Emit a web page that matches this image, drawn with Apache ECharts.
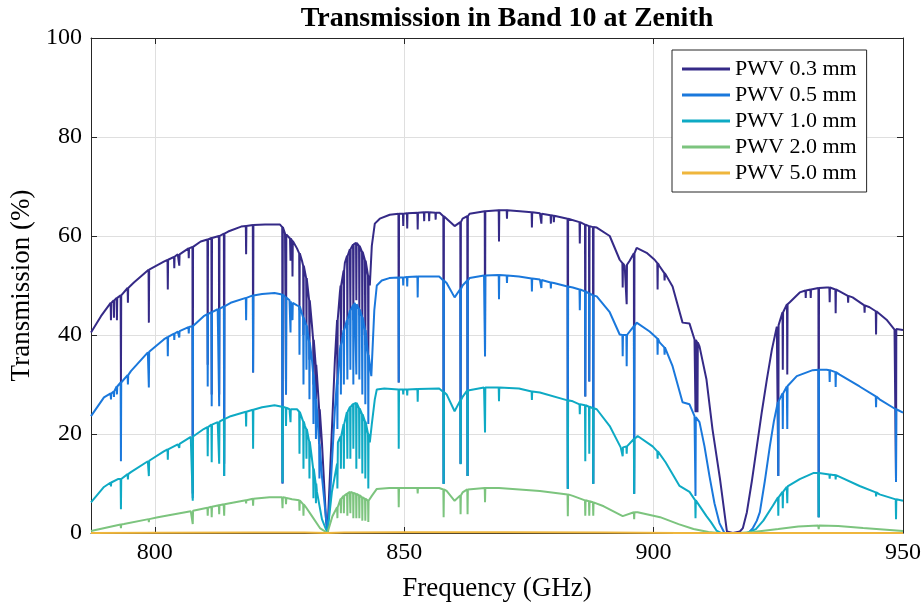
<!DOCTYPE html>
<html>
<head>
<meta charset="utf-8">
<script src="https://cdn.jsdelivr.net/npm/echarts@6/dist/echarts.min.js"></script>
<style>
    html, body { margin: 0; padding: 0; background: #fff; }
    #main { width: 924px; height: 607px; }
</style>
</head>
<body>
<div id="main"></div>
<script>
// baseline of each curve, [GHz, %]
var pwv03 = [[787.2,40.5],[789.2,43.8],[791.2,46.5],[793.6,48.2],[795.8,50.6],[798.8,53.2],[801.8,54.8],[804.6,56.3],[807.2,57.7],[809.2,58.9],[811.8,59.7],[814.7,60.9],[817.3,61.9],[819.7,62.2],[822.1,62.3],[825.1,62.3],[826.1,60.5],[827.1,59.5],[828.5,57.5],[829.5,55],[830.5,51],[831.5,42],[832.5,32],[833.5,18.3],[834.3,3],[834.6,0],[835.1,11.5],[836.1,35],[837.1,48.6],[838.1,54.6],[839.1,57.3],[840.1,58.7],[841.1,57.9],[842.1,55.2],[843.1,50],[843.5,58],[844.1,62.5],[845.1,63.5],[847.1,64.3],[849.1,64.5],[853.1,64.8],[857.1,64.7],[858.5,63.5],[860.1,62],[861.7,63.5],[863.1,64.5],[866.2,65],[869.2,65.2],[873.2,65],[877.2,64.6],[879.8,64.2],[882.8,63.5],[885.2,62.8],[888.6,61.7],[891.2,60],[893.2,55.2],[894.2,54],[895.2,55],[896.6,57.6],[898.6,56.6],[900.2,55.2],[901.2,53.9],[903.8,49.8],[905.8,42.5],[907.2,42.3],[908.2,39.1],[909.2,37.7],[910.6,31],[911.8,21],[913.3,11],[914.7,0.3],[915.9,0],[917.3,0.3],[917.9,1],[918.7,4.2],[919.7,10.5],[920.7,17.5],[921.7,24.5],[922.7,31],[923.7,37],[924.7,41.7],[925.9,44.6],[927.3,46.6],[929.3,48.6],[931.7,49.2],[934.7,49.6],[937.3,48.8],[939.9,47.6],[943.3,45.6],[946.7,43.1],[948.3,41.1],[950,41]];
var pwv05 = [[787.2,23.6],[789.8,27.4],[792.6,30],[795.2,32.7],[798.6,36.5],[801.8,39.1],[804.6,40.7],[807.2,41.7],[809.8,43.8],[812.6,45.2],[815.2,46.5],[818.6,47.6],[821.5,48.3],[824,48.5],[825.5,48.2],[827,47],[828.5,46],[829.1,45.8],[830.5,41.7],[831.5,35],[832.5,25],[833.5,11.5],[834.6,0],[835.1,6.9],[836.1,25],[837.1,37],[838.5,43],[840.1,46.5],[841.5,43.8],[842.5,38.5],[843.4,31.7],[844,45],[844.5,50],[845.5,51],[847,51.5],[849,51.6],[853,51.8],[857,51.8],[858.5,50.5],[860.1,47.6],[861.7,50],[863.1,51.5],[866,52],[869,52.1],[873,51.8],[877.2,51.2],[880,50.5],[883.8,49.6],[888.6,47.8],[891.2,44.6],[893.2,40.1],[894.6,40],[896.6,42.5],[899.2,40.7],[901.2,38.5],[903.8,33.7],[905.8,26.4],[907.2,26],[908.2,23.6],[909.2,22.4],[910.2,17.5],[911.2,11.5],[912.2,6],[913.2,2],[914.2,0],[919,0],[919.9,1],[920.7,2.5],[921.3,4.2],[922.3,10.5],[923.3,17.5],[924.1,22.5],[924.9,26.4],[926.7,29.6],[928.7,31.7],[931.9,32.9],[934.7,33],[937.3,32],[941.3,29.6],[945.3,27],[948.7,25],[950,24.3]];
var pwv10 = [[787.2,6.2],[789.8,9.3],[792.6,10.9],[795.2,12.3],[798.6,14.5],[801.8,16.5],[804.6,17.9],[807.2,19.4],[809.8,21],[812.6,22.4],[815.2,23.6],[818.6,24.6],[821.5,25.4],[824,25.8],[825.5,25.5],[827,25],[828.5,25],[830.1,21.6],[831.5,15],[832.5,8.3],[833.5,2.8],[834.6,0],[835.5,8.3],[836.7,18.3],[838.5,24.4],[840.1,26.4],[841.7,23.6],[843.1,18.3],[843.5,22],[844.1,27],[844.5,29],[846,29.2],[849,29],[853,29.2],[857,29.2],[858.5,28],[860.1,24.6],[861.7,27.5],[863.1,29],[866,29.4],[869,29.4],[873,29.2],[877.2,28.4],[883.8,26.6],[888.6,25],[891.2,21.6],[893.4,17.3],[894.8,17.6],[896.8,19.6],[899.8,17.5],[902.4,14.3],[905.2,9.5],[907.2,8.3],[908.6,6.9],[910.6,3.4],[911.5,2.2],[912.6,0.5],[913.5,0],[918.7,0],[920.5,0.8],[922,2.5],[923.9,5.5],[925,7],[926.7,9.3],[929.3,10.9],[932,12.1],[936,11.7],[941.3,9.5],[945.3,7.8],[948.7,6.8],[950,6.5]];
var pwv20 = [[787.2,0.4],[793.8,1.8],[800.6,3.2],[807.2,4.4],[813.8,5.8],[819.8,6.9],[823,7.2],[825.5,7.2],[827.5,6.8],[829.1,6.5],[830.3,5.2],[831.5,3.4],[833.1,1],[834.6,0],[835.6,3.4],[837.3,6.9],[839.1,8.3],[841.1,7.5],[843.1,6.3],[843.5,7.5],[844.5,8.9],[847,9.1],[853,9.1],[857,9.1],[858.5,8.5],[860.1,6.5],[861.7,8.2],[863.1,9],[869,9.1],[877.2,8.5],[883.8,7.5],[890,5.4],[893.8,3.4],[896.8,4.2],[901.3,3.2],[905,1.8],[908,0.8],[911,0.2],[913,0],[917,0],[920,0.2],[925,0.8],[929,1.3],[933,1.5],[937,1.4],[942,1],[946,0.7],[950,0.4]];
var pwv50 = [[787.2,0],[800,0.05],[820,0.1],[830,0.1],[834.6,0],[838,0.1],[850,0.15],[870,0.15],[890,0.1],[905,0.02],[910,0],[925,0],[935,0.02],[950,0]];

// absorption lines: [GHz, top %, bottom %]
var lines03 = [[791.2,46.5,43],[791.8,47,43.5],[792.4,47.5,43],[793.2,48,30],[794.6,49.5,46.5],[798.8,53.2,42.5],[802.6,55.2,49.2],[803.9,55.8,53.5],[804.9,56.3,54],[806.8,57.5,55.5],[807.6,57.8,8],[810.6,59.3,34],[811.4,59.6,28],[812.9,60,28],[813.9,60.5,14],[818.3,62,56.3],[819.7,62.2,32.4],[825.6,61.8,10],[826.3,60.3,28],[827.2,59.5,55],[827.6,59,51.8],
    [829,56.5,45],[829.8,54,40],[830.4,51.5,42],[831,47,35],[831.8,39,30],[832.3,34,27],[833,25,18],[836.6,43,30],[837.3,50,37],[837.9,53,40],[838.6,56,42],[839.2,57.4,45],[839.8,58.3,43],[840.4,58.6,47],[841,58,44],[841.6,56.8,40],[842.2,55,38],[842.8,52,35],
    [848.9,64.5,30.4],[849.8,64.5,62],[850.6,64.6,61.5],[852.7,64.7,61.3],[854,64.8,63],[855,64.8,63],[856.3,64.7,63.3],[857.9,64,10],[861.3,62.8,14],[862.7,64,11.5],[866.2,65,35.7],[869,65.2,58.9],[870.6,65.2,63.5],[875.6,64.8,61.7],[877.5,64.5,62.5],[879.4,64.2,62.5],[880,64.1,62.8],[882.8,63.5,9],[885.2,62.8,58.5],[886.3,62.3,27.6],[887.1,62,30.6],[887.9,61.8,10],[893.8,54.5,49.6],[894.6,54.2,46.2],[896.1,56.5,8],[900.8,54.5,49.2],[902.2,52.5,51],[908.4,39,24.4],[908.8,38.5,24.4],
    [925,42,11.5],[925.9,44.6,33],[926.8,46.2,32],[930.5,49,47.5],[931.5,49.2,47.5],[933.1,49.5,3.2],[935.3,49.6,46.6],[936.5,49.2,44.4],[939,47.9,46.5],[942.3,46,44.5],[944.6,44.8,40.1],[948.6,41.2,10.3]];
var lines05 = [[791.2,28.2,27],[791.8,28.6,27.5],[792.4,29.6,28],[793.2,30.4,14.5],[794.6,31.9,30],[798.8,36.6,29.4],[802.6,39.6,35.7],[803.9,40.3,39],[804.9,40.8,39.5],[806.8,41.6,40.3],[807.6,41.8,7],[810.6,44.2,29.6],[811.4,44.6,25.6],[812.9,45.3,25.6],[813.9,45.8,11.5],[818.3,47.5,43],[819.7,48,32.4],[825.6,48.2,10],[826.3,47.6,28],[827.2,46.8,40.5],[827.6,46.5,43],
    [829,45.8,36],[829.8,43.5,30],[830.4,42,33],[831,38.5,27],[831.8,32,22],[832.3,27,19],[833,18,11],[836.6,31,21],[837.3,38,28],[837.9,41,30],[838.6,43.2,31],[839.2,45,33],[839.8,46,30],[840.4,46.2,32],[841,45.2,31],[841.6,43.6,28],[842.2,41,26],[842.8,36,22],
    [848.9,51.6,30.4],[849.8,51.6,50],[850.6,51.7,49.8],[852.7,51.8,47.6],[857.9,51,9.9],[861.3,49.3,14],[862.7,51,11.5],[866.2,52,35.7],[869,52.1,47.2],[870.6,52,50.5],[875.6,51.4,48.8],[877.5,51.1,49.5],[879.4,50.6,49.4],[882.8,49.8,8.9],[885.2,49.2,45],[886.3,48.8,27.6],[887.1,48.4,30.6],[887.9,48,9.9],[893.8,40,35.7],[894.6,40,33.7],[896.1,41.8,7.9],[900.8,39.3,36],[902.2,37.5,36],[908.4,23.4,7.5],
    [925,26.6,11.5],[925.9,28.2,21],[926.8,29.7,21],[933.1,33,3.2],[935.3,32.9,30.5],[936.5,32.5,29.5],[944.6,27.6,25.4],[948.6,25,10.3]];
var lines10 = [[791.2,10.2,9.4],[793.2,10.9,4.8],[794.6,11.9,10.8],[798.8,14.6,11.5],[802.6,16.9,14.8],[804.9,18,17.2],[807.6,19.5,6.5],[810.6,21.4,15.5],[811.4,21.9,14.3],[812.9,22.5,14],[813.9,23,11.5],[818.3,24.5,21.5],[819.7,24.9,17],[825.6,25.5,10.3],[826.3,25.3,21.6],[827.2,25,22.4],
    [829,24.5,16],[829.8,22.5,13],[830.4,21,15],[831,18.5,11],[831.8,13,7],[832.3,10,6],[836.6,14,9],[837.3,19.5,13],[837.9,22,13],[838.6,24.5,15],[839.2,25.5,15],[839.8,26.1,17],[840.4,26.3,13],[841,25.2,15],[841.6,24,12],[842.2,22.5,11],[842.8,20,9],
    [848.9,29,17],[849.8,29,28],[850.6,29,27.8],[852.7,29.1,26.5],[857.9,28.5,9.9],[861.3,26.8,13.9],[862.7,28.8,11.5],[866.2,29.4,20.3],[869,29.4,26.6],[875.6,28.6,26.9],[882.8,26.8,8.9],[885.2,26,24],[886.3,25.8,14.5],[887.1,25.5,16],[887.9,25.2,9.9],[893.8,17.3,15.5],[894.6,17.5,16],[896.1,19,7.9],[900.8,16.5,15],[908.4,6.6,3],
    [925,7.2,3.5],[925.9,8.3,5],[926.8,9.4,6],[933.1,12.1,3.2],[935.3,11.8,11],[936.5,11.7,10.8],[944.6,8.2,7.4],[948.6,6.8,2.8]];
var lines20 = [[793.2,1.7,1],[798.8,2.8,2.2],[807.6,4.5,1.8],[810.6,5.1,3.5],[811.4,5.3,3.2],[812.9,5.6,3.8],[813.9,5.8,3.5],[818.3,6.6,6],[819.7,6.9,5.5],[825.6,7.2,5],[826.3,7.1,5.8],
    [829,6.6,4.5],[829.8,5.8,3.5],[836.6,5.2,3],[837.3,6.9,4],[837.9,7.5,4],[838.6,8,3.5],[839.2,8.3,4],[839.8,8.1,3],[840.4,7.9,3],[841,7.6,3],[841.6,7.2,2.5],[842.2,6.9,2.5],[842.8,6.5,2.2],
    [848.9,9.1,5.2],[852.7,9.1,8],[857.9,8.8,3.2],[861.3,7.6,3.8],[862.7,8.8,3.8],[866.2,9.1,6.2],[882.8,7.8,3.4],[886.3,6.6,3.5],[887.1,6.4,3.5],[887.9,6.2,3.5],[896.1,4.2,2.8],[933.1,1.5,0.8]];
var lines50 = [];

var names = ['PWV 0.3 mm', 'PWV 0.5 mm', 'PWV 1.0 mm', 'PWV 2.0 mm', 'PWV 5.0 mm'];
var colors = ['#352a87', '#1a78dc', '#0eaac4', '#7cc47e', '#efb63c'];
var yTicks = [0, 20, 40, 60, 80, 100];

var FONT = '"Liberation Serif", "Times New Roman", serif';

// put the narrow lines into the baseline
function withLines(base, lines) {
    var pts = base.slice();
    lines.forEach(function (l) {
        pts.push([l[0] - 0.06, l[1]], [l[0], l[2]], [l[0] + 0.06, l[1]]);
    });
    return pts.sort(function (a, b) { return a[0] - b[0]; });
}

var curves = [
    withLines(pwv03, lines03),
    withLines(pwv05, lines05),
    withLines(pwv10, lines10),
    withLines(pwv20, lines20),
    withLines(pwv50, lines50)
];

var myChart = echarts.init(document.getElementById('main'), null, {renderer: 'canvas'});

var axisCol = '#262626';

var option = {
    backgroundColor: '#fff',
    animation: false,
    title: {
        text: 'Transmission in Band 10 at Zenith',
        left: 502,
        top: 0,
        textAlign: 'center',
        textStyle: {fontFamily: FONT, fontSize: 28, fontWeight: 'bold', color: '#000'}
    },
    legend: {
        data: names,
        orient: 'vertical',
        left: 672,
        top: 50,
        icon: 'rect',
        itemWidth: 48,
        itemHeight: 3,
        itemGap: 4,
        padding: [8, 10, 8, 10],
        backgroundColor: '#fff',
        borderColor: axisCol,
        borderWidth: 1,
        borderRadius: 0,
        textStyle: {fontFamily: FONT, fontSize: 22, color: '#000'}
    },
    grid: {left: 91, right: 21, top: 38, bottom: 73, containLabel: false},
    xAxis: [{
        type: 'value',
        min: 787.2,
        max: 950,
        splitNumber: 3,
        minInterval: 50,
        maxInterval: 50,
        name: 'Frequency (GHz)',
        nameLocation: 'middle',
        nameGap: 42,
        nameTextStyle: {fontFamily: FONT, fontSize: 27, color: '#000'},
        axisLine: {show: true, onZero: false, lineStyle: {color: axisCol, width: 1}},
        axisTick: {show: true, inside: true, length: 6, lineStyle: {color: axisCol}},
        axisLabel: {
            show: true, margin: 8,
            formatter: function (v) { return v % 50 === 0 ? String(v) : ''; },
            fontFamily: FONT, fontSize: 24, color: '#000'
        },
        splitLine: {show: true, lineStyle: {color: '#dfdfdf', width: 1}}
    }, {
        type: 'value',
        position: 'top',
        min: 787.2,
        max: 950,
        splitNumber: 3,
        minInterval: 50,
        maxInterval: 50,
        axisLine: {show: true, onZero: false, lineStyle: {color: axisCol, width: 1}},
        axisTick: {show: true, inside: true, length: 6, lineStyle: {color: axisCol}},
        axisLabel: {show: false},
        splitLine: {show: false}
    }],
    yAxis: [{
        type: 'value',
        min: 0,
        max: 100,
        interval: 20,
        name: 'Transmission (%)',
        nameLocation: 'middle',
        nameGap: 52,
        nameTextStyle: {fontFamily: FONT, fontSize: 27, color: '#000'},
        axisLine: {show: true, lineStyle: {color: axisCol, width: 1}},
        axisTick: {show: true, inside: true, length: 6, lineStyle: {color: axisCol}},
        axisLabel: {show: true, margin: 9, fontFamily: FONT, fontSize: 24, color: '#000',
            formatter: function (v) { return yTicks.indexOf(v) >= 0 ? String(v) : ''; }},
        splitLine: {show: true, lineStyle: {color: '#dfdfdf', width: 1}}
    }, {
        type: 'value',
        position: 'right',
        min: 0,
        max: 100,
        interval: 20,
        axisLine: {show: true, lineStyle: {color: axisCol, width: 1}},
        axisTick: {show: true, inside: true, length: 6, lineStyle: {color: axisCol}},
        axisLabel: {show: false},
        splitLine: {show: false}
    }],
    series: curves.map(function (pts, i) {
        return {
            name: names[i],
            type: 'line',
            data: pts,
            xAxisIndex: 0,
            yAxisIndex: 0,
            showSymbol: false,
            symbol: 'none',
            sampling: null,
            color: colors[i],
            lineStyle: {color: colors[i], width: 2},
            emphasis: {disabled: true}
        };
    })
};

myChart.setOption(option);
</script>
</body>
</html>
